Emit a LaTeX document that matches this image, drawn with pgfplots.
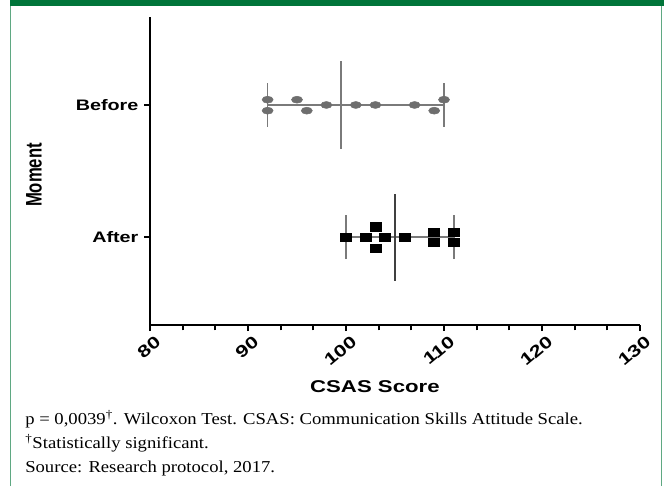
\documentclass[border=0pt]{standalone}
\usepackage{fontspec}
\setmainfont{Liberation Serif}[FakeStretch=1.12]
\newfontfamily\chartfont{Liberation Sans}[FakeStretch=1.3]
\newfontfamily\chartfontn{Liberation Sans}
\usepackage{graphicx}
\usepackage{pgfplots}
\pgfplotsset{compat=1.18}
\definecolor{frgreen}{HTML}{00753A}
\definecolor{frline}{HTML}{5FA882}
\definecolor{ptgray}{HTML}{6E6E6E}
\definecolor{lngray}{HTML}{7A7A7A}
\begin{document}
\begin{tikzpicture}
\path[use as bounding box] (0pt,0pt) rectangle (498pt,364.5pt);
\fill[frgreen] (7.5pt,360pt) rectangle (498pt,364.5pt);
\draw[frline, line width=0.8pt] (7.9pt,0pt) -- (7.9pt,360pt);
\draw[frline, line width=0.8pt] (495.8pt,0pt) -- (495.8pt,360pt);
\begin{axis}[
  at={(112.5pt,120.75pt)}, anchor=south west,
  scale only axis, width=367.5pt, height=231pt,
  xmin=80, xmax=130, ymin=-0.663, ymax=1.665,
  axis lines=left, axis line style={-, line width=1.8pt, black},
  xtick={80,90,...,130}, minor x tick num=2,
  ytick={0,1}, yticklabels={After,Before},
  tick align=outside, major tick length=4.5pt, minor tick length=4pt,
  every tick/.style={black, line width=1.5pt},
  /pgf/number format/assume math mode=true,
  xticklabel style={rotate=40, anchor=north east, inner sep=1pt, yshift=-3pt, xshift=2pt,
    font=\chartfont\bfseries\fontsize{12.5}{12.5}\selectfont},
  yticklabel style={font=\chartfont\bfseries\fontsize{11.4}{11.4}\selectfont, inner sep=2pt, xshift=-2pt},
  xlabel={CSAS Score},
  xlabel style={at={(axis description cs:0.459,-0.201)}, anchor=center,
    font=\chartfont\bfseries\fontsize{12.8}{12.8}\selectfont},
  ylabel={\scalebox{1}[1.35]{Moment}},
  ylabel style={at={(axis description cs:-0.237,0.487)}, anchor=center,
    font=\chartfontn\bfseries\fontsize{12.5}{12.5}\selectfont},
  clip=false,
]
% Before: lines
\addplot[lngray, line width=1.3pt] coordinates {(92,1) (110,1)};
\addplot[lngray, line width=1.3pt] coordinates {(92,0.834) (92,1.166)};
\addplot[lngray, line width=1.3pt] coordinates {(110,0.834) (110,1.166)};
\addplot[lngray, line width=1.4pt] coordinates {(99.5,0.67) (99.5,1.33)};
% Before points
\addplot[only marks, mark=*, mark size=2.6pt,
  mark options={xscale=1.6, fill=ptgray, draw=ptgray}] coordinates {
  (92,1.04) (92,0.957) (95,1.04) (96,0.957) (98,1) (101,1) (103,1) (107,1) (109,0.957) (110,1.04)};
% After: lines
\addplot[lngray, line width=1.3pt] coordinates {(100,0) (111,0)};
\addplot[lngray, line width=1.3pt] coordinates {(100,-0.166) (100,0.166)};
\addplot[lngray, line width=1.3pt] coordinates {(111,-0.166) (111,0.166)};
\addplot[black!75, line width=1.4pt] coordinates {(105,-0.33) (105,0.33)};
% After points
\addplot[only marks, mark=square*, mark size=3.3pt,
  mark options={xscale=1.25, fill=black, draw=black, rounded corners=1pt}] coordinates {
  (100,0) (102,0) (103,0.08) (103,-0.083) (104,0) (106,0) (109,0.038) (109,-0.038) (111,0.038) (111,-0.038)};
\end{axis}
\node[anchor=base west, inner sep=0pt, font=\fontsize{12.5}{12.5}\selectfont] at (18.75pt,46.5pt)
  {p = 0,0039\textsuperscript{\textdagger}. Wilcoxon Test. CSAS: Communication Skills Attitude Scale.};
\node[anchor=base west, inner sep=0pt, font=\fontsize{12.5}{12.5}\selectfont] at (18.75pt,28.5pt)
  {\textsuperscript{\textdagger}Statistically significant.};
\node[anchor=base west, inner sep=0pt, font=\fontsize{12.5}{12.5}\selectfont] at (18.75pt,10.5pt)
  {Source: Research protocol, 2017.};
\end{tikzpicture}
\end{document}
